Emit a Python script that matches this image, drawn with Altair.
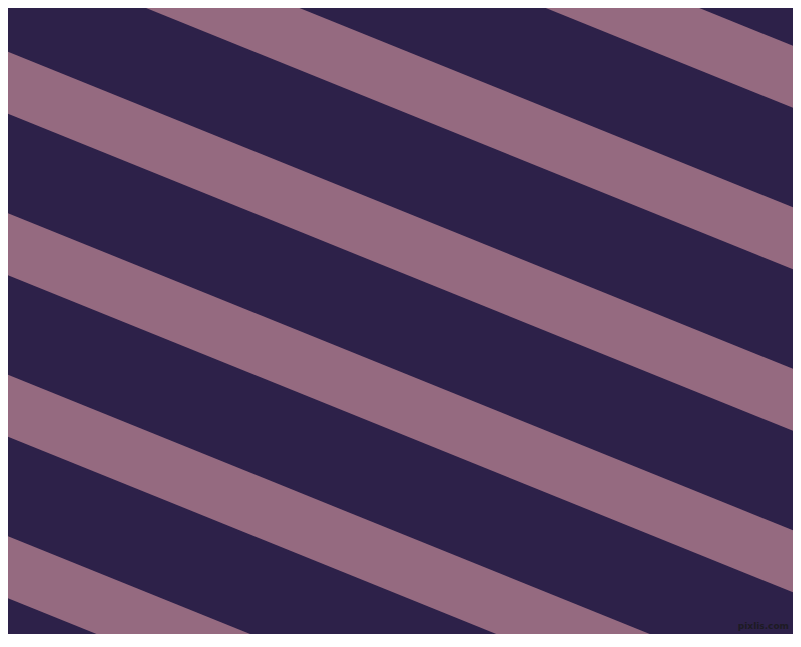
import altair as alt
import pandas as pd

# Stripe geometry (pixel units of the 801x647 image)
stripe_ids = [0, 1, 2, 3, 4, 5, 6]
stripe_top_at_left = [-436.0, -274.5, -113.0, 48.5, 210.0, 371.5, 533.0]
stripe_thickness = 62.0
stripe_slope = 0.404
x_ends = [0.0, 801.0]

dark = "#2D2149"
mauve = "#956A80"

rows = []
for sid, top in zip(stripe_ids, stripe_top_at_left):
    for x in x_ends:
        y = top + stripe_slope * x
        rows.append({"stripe": sid, "x": x, "y": y, "y2": y + stripe_thickness})
df = pd.DataFrame(rows)

W, H = 785, 626
xs = alt.Scale(domain=[8, 8 + W], nice=False, zero=False)
ys = alt.Scale(domain=[8, 8 + H], nice=False, zero=False, reverse=True)

stripes = alt.Chart(df).mark_area(color=mauve, clip=True, interpolate="linear").encode(
    x=alt.X("x:Q", scale=xs, axis=None),
    y=alt.Y("y:Q", scale=ys, axis=None),
    y2="y2:Q",
    detail="stripe:N",
)

wm = pd.DataFrame({"x": [789.0], "y": [626.0], "t": ["pixlis.com"]})
watermark = alt.Chart(wm).mark_text(
    color="#1a1a1a", fontSize=9, font="DejaVu Sans", fontWeight="bold", opacity=0.8,
    align="right", baseline="middle"
).encode(
    x=alt.X("x:Q", scale=xs, axis=None),
    y=alt.Y("y:Q", scale=ys, axis=None),
    text="t:N",
)

chart = (
    alt.layer(stripes, watermark)
    .properties(width=W, height=H, padding=0, background=dark,
                autosize=alt.AutoSizeParams(type="none"))
    .configure_view(stroke=None, fill=dark)
)

chart.save("out.html", embed_options={"renderer": "svg", "actions": False})
